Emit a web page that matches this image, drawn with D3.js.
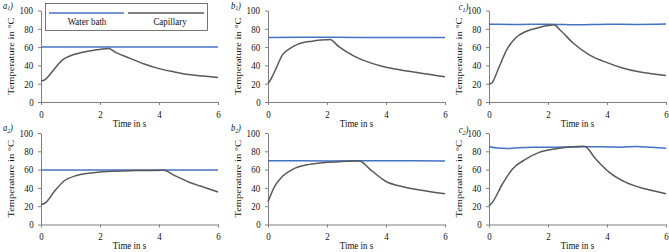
<!DOCTYPE html>
<html>
<head>
<meta charset="utf-8">
<script src="https://cdn.jsdelivr.net/npm/d3@7"></script>
<style>
  body { margin: 0; background: #fff; }
  svg { display: block; }
  svg text { font-family: "Liberation Serif", "Times New Roman", serif; }
  .sq { transform-box: fill-box; transform-origin: center; transform: scaleX(0.85); }
  .axis path, .axis line { stroke: #7f7f7f; }
  .axis text { font-size: 10.5px; fill: #111; }
</style>
</head>
<body>
<svg id="chart" width="669" height="252"></svg>
<script>
// time axis ticks and temperature ticks
const timeTicks = [0, 2, 4, 6];
const tempTicks = [0, 20, 40, 60, 80, 100];

// a1
const a1CapT = [0, 0.12, 0.3, 0.5, 0.75, 1, 1.25, 1.5, 2, 2.28, 2.55, 3, 3.5, 4, 4.5, 5, 5.5, 6];
const a1Cap = [23, 24, 30, 38, 46.5, 50.5, 53, 55, 57.5, 58.5, 54, 48, 41.5, 36.5, 33, 30, 28.3, 26.8];
const a1BathT = [0, 2, 4, 6];
const a1Bath = [60, 60, 60, 60];

// b1
const b1CapT = [0, 0.1, 0.25, 0.5, 0.75, 1, 1.5, 2, 2.1, 2.4, 2.9, 3.45, 4, 4.5, 5, 5.5, 6];
const b1Cap = [20, 25, 35, 52, 58.5, 63, 66.5, 68, 68.2, 60.5, 50.5, 43, 38, 35, 32.5, 30, 27.5];
const b1BathT = [0, 2, 4, 6];
const b1Bath = [70.5, 70.7, 70.4, 70.5];

// c1
const c1CapT = [0, 0.1, 0.3, 0.6, 0.9, 1.25, 1.7, 2.0, 2.2, 2.4, 2.85, 3.4, 4, 4.5, 5, 5.5, 6];
const c1Cap = [19.5, 21, 35, 57, 70, 77, 81.5, 83.5, 84.3, 79, 64.5, 51.5, 43, 37.5, 33.5, 31, 29];
const c1BathT = [0, 1, 2, 3, 4, 5, 6];
const c1Bath = [85, 84.7, 85, 84.4, 85, 84.8, 85.2];

// a2
const a2CapT = [0, 0.16, 0.45, 0.78, 1.2, 1.6, 2, 2.5, 3, 3.5, 4.17, 4.5, 5, 5.4, 6];
const a2Cap = [21.5, 24, 36, 47.5, 53.5, 56, 57.5, 58.3, 58.8, 59, 59.3, 54, 46.5, 42, 35.5];
const a2BathT = [0, 2, 4, 6];
const a2Bath = [59.5, 59.5, 59.5, 59.5];

// b2
const b2CapT = [0, 0.23, 0.5, 0.85, 1.4, 2, 2.5, 3.1, 3.45, 4, 4.6, 5.15, 6];
const b2Cap = [24.8, 42, 53, 60.5, 65.7, 68, 68.8, 69.3, 60.5, 47, 41, 37.6, 33.5];
const b2BathT = [0, 2, 4, 6];
const b2Bath = [69.7, 69.5, 69.6, 69.5];

// c2
const c2CapT = [0, 0.11, 0.45, 0.79, 1.25, 1.7, 2.27, 2.83, 3.23, 3.62, 4.08, 4.64, 5.32, 6];
const c2Cap = [20.4, 24, 44, 60.5, 71.5, 78.8, 82.8, 85, 85.4, 71.5, 57, 46, 38.7, 33.6];
const c2BathT = [0, 0.3, 0.6, 1, 1.5, 2, 2.5, 3, 3.5, 4, 4.5, 5, 5.5, 6];
const c2Bath = [85, 83.5, 83, 84, 84.5, 84.3, 84.6, 84.8, 85, 84.8, 84.5, 85.2, 84.3, 83.3];

const panels = [
    {name: "a", sub: "1", col: 0, row: 0, capT: a1CapT, cap: a1Cap, bathT: a1BathT, bath: a1Bath},
    {name: "b", sub: "1", col: 1, row: 0, capT: b1CapT, cap: b1Cap, bathT: b1BathT, bath: b1Bath},
    {name: "c", sub: "1", col: 2, row: 0, capT: c1CapT, cap: c1Cap, bathT: c1BathT, bath: c1Bath},
    {name: "a", sub: "2", col: 0, row: 1, capT: a2CapT, cap: a2Cap, bathT: a2BathT, bath: a2Bath},
    {name: "b", sub: "2", col: 1, row: 1, capT: b2CapT, cap: b2Cap, bathT: b2BathT, bath: b2Bath},
    {name: "c", sub: "2", col: 2, row: 1, capT: c2CapT, cap: c2Cap, bathT: c2BathT, bath: c2Bath}
];

const colX = [41, 268, 489];
const rowY = [10.5, 133];
const plotW = 177;
const plotH = 91.5;
const bathColor = "#4472c4";
const capColor = "#595959";

const svg = d3.select("#chart");

panels.forEach(p => {
    const x0 = colX[p.col];
    const y0 = rowY[p.row];

    const scaleX = d3.scaleLinear().domain([0, 6]).range([x0, x0 + plotW]);
    const scaleY = d3.scaleLinear().domain([0, 100]).range([y0 + plotH, y0]);

    const line = d3.line()
        .x(d => scaleX(d[0]))
        .y(d => scaleY(d[1]))
        .curve(d3.curveMonotoneX);

    // axes
    svg.append("g")
        .classed("axis", true)
        .attr("transform", `translate(0, ${y0 + plotH})`)
        .call(d3.axisBottom(scaleX).tickValues(timeTicks).tickFormat(d3.format("d")).tickSize(3).tickSizeOuter(0))
        .call(g => g.selectAll("text").classed("sq", true).attr("dy", "0.95em"));

    svg.append("g")
        .classed("axis", true)
        .attr("transform", `translate(${x0}, 0)`)
        .call(d3.axisLeft(scaleY).tickValues(tempTicks).tickFormat(d3.format("d")).tickSize(3).tickSizeOuter(0))
        .call(g => g.selectAll("text").classed("sq", true).attr("x", -7));

    // water bath then capillary
    svg.append("path")
        .datum(d3.zip(p.bathT, p.bath))
        .attr("fill", "none")
        .attr("stroke", bathColor)
        .attr("stroke-width", 1.5)
        .attr("d", line);

    svg.append("path")
        .datum(d3.zip(p.capT, p.cap))
        .attr("fill", "none")
        .attr("stroke", capColor)
        .attr("stroke-width", 1.5)
        .attr("d", line);

    // axis titles
    svg.append("text")
        .attr("transform", `translate(${x0 - 27}, ${y0 + plotH / 2}) scale(0.85, 1) rotate(-90)`)
        .attr("text-anchor", "middle")
        .attr("font-size", "10.5px")
        .attr("fill", "#111")
        .text("Temperature in °C");

    svg.append("text")
        .classed("sq", true)
        .attr("x", x0 + plotW / 2)
        .attr("y", y0 + plotH + 25)
        .attr("text-anchor", "middle")
        .attr("font-size", "10.5px")
        .attr("fill", "#111")
        .text("Time in s");

    // panel label like a₁)
    const lab = svg.append("text")
        .classed("sq", true)
        .attr("x", x0 - 39 + (p.col === 2 ? 8 : p.col === 1 ? 1 : 0))
        .attr("y", y0 - 2 + (p.col === 2 ? 2 : 0))
        .attr("font-size", "10px")
        .attr("font-style", "italic")
        .attr("fill", "#111");
    lab.append("tspan").text(p.name);
    lab.append("tspan").attr("font-size", "7px").attr("dy", 2).text(p.sub);
    lab.append("tspan").attr("dy", -2).text(")");
});

// legend in panel a1
const legend = svg.append("g");
legend.append("rect")
    .attr("x", 45.5).attr("y", 3.5).attr("width", 162).attr("height", 27)
    .attr("fill", "#fff").attr("stroke", "#555").attr("stroke-width", 0.8);

const legendItems = [
    {label: "Water bath", color: bathColor, x1: 49, x2: 124, tx: 87},
    {label: "Capillary", color: capColor, x1: 128, x2: 204, tx: 170}
];
legendItems.forEach(it => {
    legend.append("line")
        .attr("x1", it.x1).attr("x2", it.x2).attr("y1", 13).attr("y2", 13)
        .attr("stroke", it.color).attr("stroke-width", 1.5);
    legend.append("text")
        .classed("sq", true)
        .attr("x", it.tx).attr("y", 25)
        .attr("text-anchor", "middle")
        .attr("font-size", "10.5px")
        .attr("fill", "#111")
        .text(it.label);
});
</script>
</body>
</html>
